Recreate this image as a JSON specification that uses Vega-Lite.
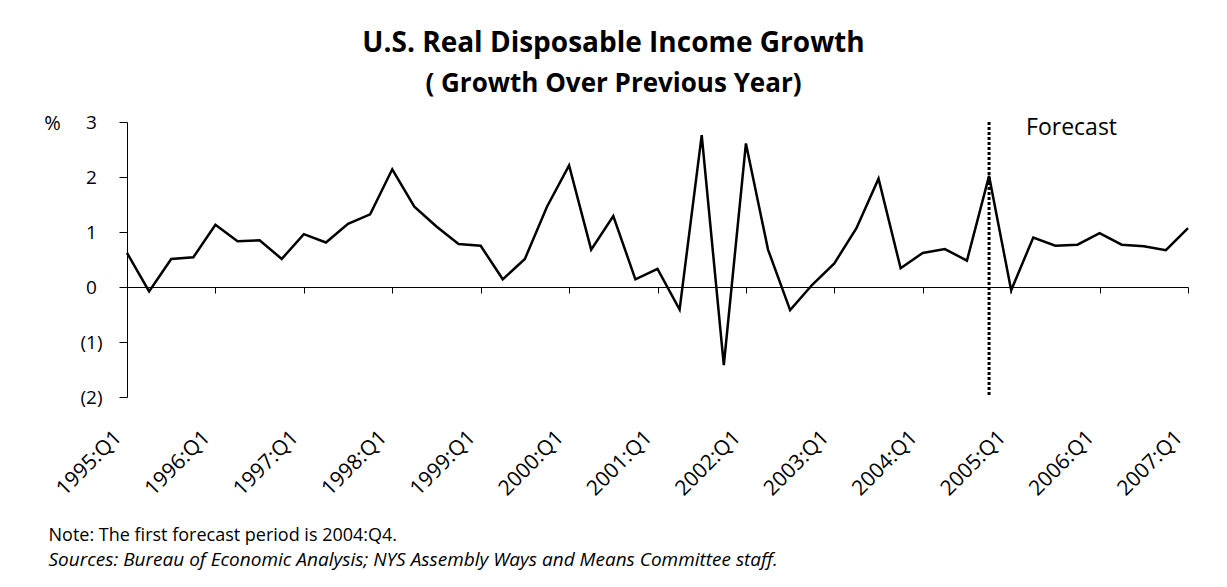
{
  "$schema": "https://vega.github.io/schema/vega-lite/v6.json",
  "width": 1061,
  "height": 275,
  "autosize": {"type": "none"},
  "padding": {"left": 127, "top": 122, "right": 39, "bottom": 190},
  "background": "white",
  "config": {"view": {"stroke": null}, "font": "Open Sans"},
  "title": {
    "text": "U.S. Real Disposable Income Growth",
    "subtitle": "( Growth Over Previous Year)",
    "anchor": "middle",
    "frame": "group",
    "dx": -44,
    "offset": 16,
    "font": "Open Sans",
    "fontSize": 28,
    "fontWeight": "bold",
    "color": "black",
    "subtitleFont": "Open Sans",
    "subtitleFontSize": 26,
    "subtitleFontWeight": "bold",
    "subtitleColor": "black",
    "subtitlePadding": 13
  },
  "data": {
    "values": [
      {"q": "1995:Q1", "v": 0.62},
      {"q": "1995:Q2", "v": -0.08},
      {"q": "1995:Q3", "v": 0.51},
      {"q": "1995:Q4", "v": 0.54},
      {"q": "1996:Q1", "v": 1.13},
      {"q": "1996:Q2", "v": 0.83},
      {"q": "1996:Q3", "v": 0.85},
      {"q": "1996:Q4", "v": 0.51},
      {"q": "1997:Q1", "v": 0.96},
      {"q": "1997:Q2", "v": 0.81},
      {"q": "1997:Q3", "v": 1.15},
      {"q": "1997:Q4", "v": 1.32},
      {"q": "1998:Q1", "v": 2.14},
      {"q": "1998:Q2", "v": 1.46},
      {"q": "1998:Q3", "v": 1.10},
      {"q": "1998:Q4", "v": 0.78},
      {"q": "1999:Q1", "v": 0.75},
      {"q": "1999:Q2", "v": 0.14},
      {"q": "1999:Q3", "v": 0.51},
      {"q": "1999:Q4", "v": 1.46},
      {"q": "2000:Q1", "v": 2.21},
      {"q": "2000:Q2", "v": 0.68},
      {"q": "2000:Q3", "v": 1.29},
      {"q": "2000:Q4", "v": 0.14},
      {"q": "2001:Q1", "v": 0.33},
      {"q": "2001:Q2", "v": -0.41},
      {"q": "2001:Q3", "v": 2.76},
      {"q": "2001:Q4", "v": -1.42},
      {"q": "2002:Q1", "v": 2.61},
      {"q": "2002:Q2", "v": 0.68},
      {"q": "2002:Q3", "v": -0.42},
      {"q": "2002:Q4", "v": 0.04},
      {"q": "2003:Q1", "v": 0.43},
      {"q": "2003:Q2", "v": 1.07},
      {"q": "2003:Q3", "v": 1.97},
      {"q": "2003:Q4", "v": 0.34},
      {"q": "2004:Q1", "v": 0.62},
      {"q": "2004:Q2", "v": 0.69},
      {"q": "2004:Q3", "v": 0.48},
      {"q": "2004:Q4", "v": 2.02, "fc": "Forecast"},
      {"q": "2005:Q1", "v": -0.06},
      {"q": "2005:Q2", "v": 0.90},
      {"q": "2005:Q3", "v": 0.75},
      {"q": "2005:Q4", "v": 0.77},
      {"q": "2006:Q1", "v": 0.98},
      {"q": "2006:Q2", "v": 0.77},
      {"q": "2006:Q3", "v": 0.74},
      {"q": "2006:Q4", "v": 0.67},
      {"q": "2007:Q1", "v": 1.07}
    ]
  },
  "layer": [
    {
      "mark": {"type": "line", "color": "black", "strokeWidth": 2.5},
      "encoding": {
        "x": {
          "field": "q",
          "type": "ordinal",
          "sort": null,
          "scale": {"type": "point", "padding": 0},
          "axis": {
            "orient": "bottom",
            "values": ["1995:Q1", "1996:Q1", "1997:Q1", "1998:Q1", "1999:Q1", "2000:Q1", "2001:Q1", "2002:Q1", "2003:Q1", "2004:Q1", "2005:Q1", "2006:Q1", "2007:Q1"],
            "offset": -110,
            "grid": false,
            "domainColor": "black",
            "domainWidth": 1,
            "tickColor": "black",
            "tickSize": 6,
            "tickWidth": 1,
            "labelAngle": -45,
            "labelAlign": "right",
            "labelBaseline": "middle",
            "labelOffset": -9,
            "labelPadding": 141,
            "labelFont": "Open Sans",
            "labelFontSize": 21,
            "labelColor": "black",
            "labelOverlap": false,
            "labelBound": false,
            "title": "Note: The first forecast period is 2004:Q4.",
            "titleFont": "Open Sans",
            "titleFontSize": 18,
            "titleFontWeight": "normal",
            "titleColor": "black",
            "titleAlign": "left",
            "titleBaseline": "alphabetic",
            "titleX": -79,
            "titleY": 253
          }
        },
        "y": {
          "field": "v",
          "type": "quantitative",
          "scale": {"domain": [-2, 3], "nice": false, "zero": false},
          "axis": {
            "values": [-2, -1, 0, 1, 2, 3],
            "labelExpr": "datum.value < 0 ? '(' + (-datum.value) + ')' : '' + datum.value",
            "grid": false,
            "domainColor": "black",
            "domainWidth": 1,
            "tickColor": "black",
            "tickSize": 8,
            "tickWidth": 1,
            "labelAlign": "center",
            "labelBaseline": "middle",
            "labelPadding": 28,
            "labelFont": "Open Sans",
            "labelFontSize": 19,
            "labelColor": "black",
            "title": "%",
            "titleAngle": 0,
            "titleX": -75,
            "titleY": 1,
            "titleAlign": "center",
            "titleBaseline": "middle",
            "titleFont": "Open Sans",
            "titleFontSize": 20,
            "titleFontWeight": "normal",
            "titleColor": "black"
          }
        }
      }
    },
    {
      "transform": [{"filter": "datum.fc != null"}],
      "mark": {"type": "rule", "color": "black", "strokeWidth": 3, "strokeDash": [3, 2]},
      "encoding": {
        "x": {
          "field": "q",
          "type": "ordinal",
          "sort": null,
          "axis": {
            "orient": "bottom",
            "offset": -110,
            "domain": false,
            "ticks": false,
            "labels": false,
            "grid": false,
            "title": "Sources: Bureau of Economic Analysis; NYS Assembly Ways and Means Committee staff.",
            "titleFont": "Open Sans",
            "titleFontSize": 19,
            "titleFontWeight": "normal",
            "titleFontStyle": "italic",
            "titleColor": "black",
            "titleAlign": "left",
            "titleBaseline": "alphabetic",
            "titleX": -79,
            "titleY": 278
          }
        },
        "y": {"datum": 3},
        "y2": {"datum": -2}
      }
    },
    {
      "transform": [{"filter": "datum.fc != null"}],
      "mark": {"type": "text", "align": "left", "baseline": "alphabetic", "dx": 37, "dy": 13, "font": "Open Sans", "fontSize": 23, "color": "black"},
      "encoding": {
        "x": {"field": "q", "type": "ordinal", "sort": null, "axis": null},
        "y": {"datum": 3},
        "text": {"field": "fc"}
      }
    }
  ],
  "resolve": {"axis": {"x": "independent"}}
}
